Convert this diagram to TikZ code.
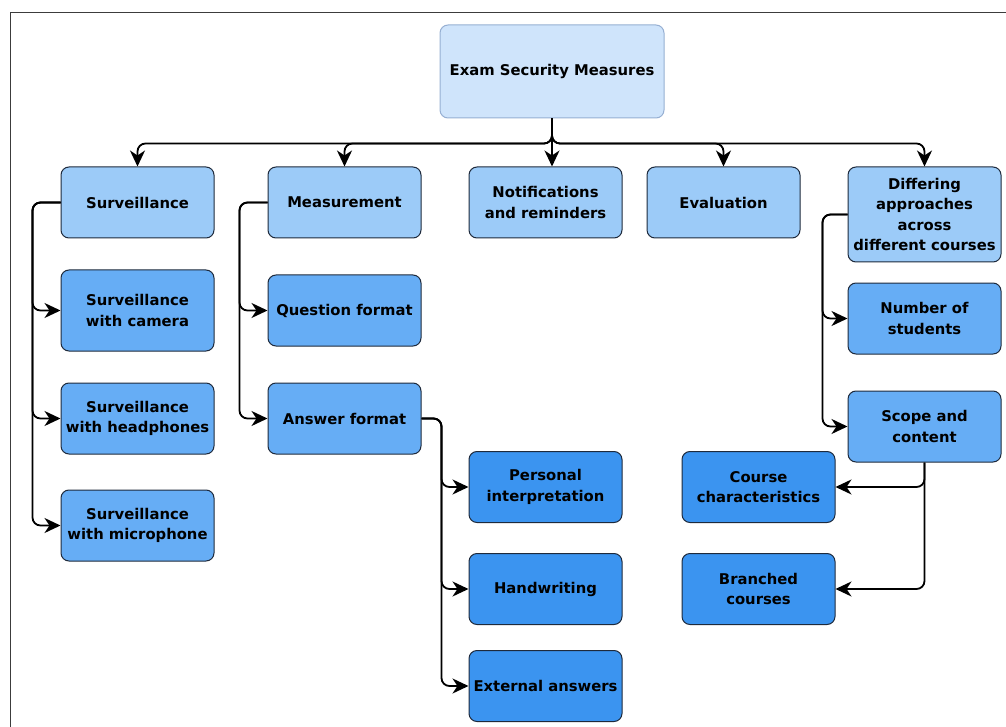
\documentclass[tikz,border=0pt]{standalone}
\usepackage{fontspec}
\setmainfont{DejaVu Sans}
\usepackage{xcolor}
\usetikzlibrary{arrows.meta, positioning}

\definecolor{rootblue}{RGB}{207,228,251}
\definecolor{rootline}{RGB}{150,175,210}
\definecolor{lvlone}{RGB}{156,203,248}
\definecolor{lvltwo}{RGB}{102,173,245}
\definecolor{lvlthree}{RGB}{59,148,240}
\definecolor{boxline}{RGB}{30,42,60}
\definecolor{framegray}{RGB}{60,60,60}

\begin{document}
\begin{tikzpicture}[
    x=1pt, y=-1pt,
    node distance=31pt,
    box/.style={rectangle, draw=boxline, line width=1pt, rounded corners=8pt, minimum width=153pt, minimum height=71pt, inner sep=2pt, align=center, font=\fontsize{14.8}{20.5}\selectfont\bfseries},
    arrow/.style={-{Stealth[length=16pt, width=15pt, inset=5pt]}, line width=1.8pt, rounded corners=8pt}
]
    \useasboundingbox (0,0) rectangle (1006,727);
    \draw[framegray, line width=0.8pt] (10,727) |- (1006,12);

    % Root
    \node[box, fill=rootblue, draw=rootline, minimum width=224pt, minimum height=93pt] (root) at (552,71.5) {Exam Security Measures};
    \coordinate (hub) at ([yshift=-25pt]root.south);

    % First level
    \node[box, fill=lvlone] (surv) at (137.5,202.5) {Surveillance};
    \node[box, fill=lvlone] (meas) at (344.5,202.5) {Measurement};
    \node[box, fill=lvlone] (notif) at (545.5,202.5) {Notifications\\and reminders};
    \node[box, fill=lvlone] (eval) at (723.5,202.5) {Evaluation};
    \node[box, fill=lvlone, minimum height=95pt] (diff) at (924.5,214.5) {Differing\\approaches\\across\\different courses};

    \draw[arrow] (root.south) -- (hub) -| (surv.north);
    \draw[arrow] (root.south) -- (hub) -| (meas.north);
    \draw[arrow] (root.south) -- (hub |- notif.north);
    \draw[arrow] (root.south) -- (hub) -| (eval.north);
    \draw[arrow] (root.south) -- (hub) -| (diff.north);

    % Surveillance
    \node[box, fill=lvltwo, minimum height=81pt, below=31pt of surv] (cam) {Surveillance\\with camera};
    \node[box, fill=lvltwo, below=31pt of cam] (head) {Surveillance\\with headphones};
    \node[box, fill=lvltwo, below=35pt of head] (mic) {Surveillance\\with microphone};
    \foreach \kid in {cam, head, mic}
        \draw[arrow] (surv.west) -- ++(-28,0) |- (\kid.west);

    % Measurement
    \node[box, fill=lvltwo, below=36pt of meas] (qfmt) {Question format};
    \node[box, fill=lvltwo, below=36pt of qfmt] (afmt) {Answer format};
    \foreach \kid in {qfmt, afmt}
        \draw[arrow] (meas.west) -- ++(-28,0) |- (\kid.west);

    % Answer format
    \node[box, fill=lvlthree] (pers) at (545.5,487) {Personal\\interpretation};
    \node[box, fill=lvlthree, below=30pt of pers] (hand) {Handwriting};
    \node[box, fill=lvlthree, below=25pt of hand] (ext) {External answers};
    \foreach \kid in {pers, hand, ext}
        \draw[arrow] (afmt.east) -- ++(20,0) |- (\kid.west);

    % Differing approaches
    \node[box, fill=lvltwo, below=20pt of diff] (nstud) {Number of\\students};
    \node[box, fill=lvltwo, below=36pt of nstud] (scope) {Scope and\\content};
    \foreach \kid in {nstud, scope}
        \draw[arrow] (diff.west) -- ++(-25,0) |- (\kid.west);

    % Scope and content
    \node[box, fill=lvlthree] (cchar) at (758.5,487) {Course\\characteristics};
    \node[box, fill=lvlthree, below=30pt of cchar] (branch) {Branched\\courses};
    \foreach \kid in {cchar, branch}
        \draw[arrow] (scope.south) |- (\kid.east);
\end{tikzpicture}
\end{document}
